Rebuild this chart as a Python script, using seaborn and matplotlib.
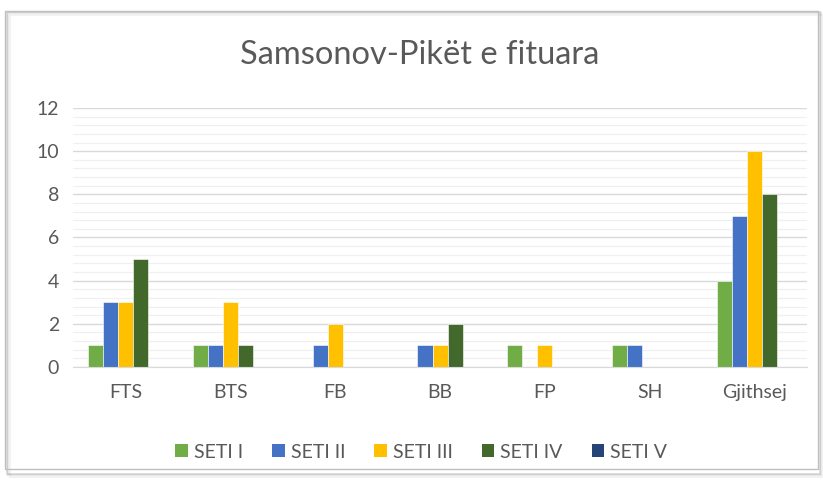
import matplotlib.pyplot as plt
import seaborn as sns
import pandas as pd
from matplotlib.ticker import MultipleLocator
from matplotlib.patches import Rectangle, Patch

categories = ['FTS', 'BTS', 'FB', 'BB', 'FP', 'SH', 'Gjithsej']
series = ['SETI I', 'SETI II', 'SETI III', 'SETI IV', 'SETI V']
seti_1 = [1, 1, 0, 0, 1, 1, 4]
seti_2 = [3, 1, 1, 1, 0, 1, 7]
seti_3 = [3, 3, 2, 1, 1, 0, 10]
seti_4 = [5, 1, 0, 2, 0, 0, 8]
seti_5 = [0, 0, 0, 0, 0, 0, 0]
colors = ['#70AD47', '#4472C4', '#FFC000', '#43682B', '#264478']

rows = []
for name, vals in zip(series, [seti_1, seti_2, seti_3, seti_4, seti_5]):
    for cat, v in zip(categories, vals):
        rows.append({'cat': cat, 'seti': name, 'val': v})
df = pd.DataFrame(rows)

sns.set_style('white')
plt.rcParams['font.family'] = ['Lato', 'DejaVu Sans']

fig = plt.figure(figsize=(8.23, 4.82), dpi=100)
ax = fig.add_axes([0.0887, 0.2386, 0.892, 0.5374])

sns.barplot(data=df, x='cat', y='val', hue='seti', order=categories, hue_order=series,
            palette=colors, saturation=1, width=0.72, edgecolor='white', linewidth=0.4,
            errorbar=None, legend=False, ax=ax)

ax.set_ylim(0, 12)
ax.set_xlim(-0.5, len(categories) - 0.5)
ax.yaxis.set_major_locator(MultipleLocator(2))
ax.yaxis.set_minor_locator(MultipleLocator(0.4))
ax.grid(axis='y', which='major', color='#D9D9D9', linewidth=1.0)
ax.grid(axis='y', which='minor', color='#F0F0F0', linewidth=0.9)
ax.set_axisbelow(True)
for s in ['top', 'right', 'left']:
    ax.spines[s].set_visible(False)
ax.spines['bottom'].set_color('#D9D9D9')
ax.tick_params(axis='both', which='both', length=0, colors='#595959', labelsize=14)
ax.tick_params(axis='y', pad=10)
ax.tick_params(axis='x', pad=12)
ax.set_xlabel('')
ax.set_ylabel('')

fig.text(0.51, 0.885, 'Samsonov-Pikët e fituara', ha='center', va='center',
         fontsize=23.5, color='#595959')

handles = [Patch(facecolor=c, edgecolor='none') for c in colors]
fig.legend(handles, series, loc='center', bbox_to_anchor=(0.512, 0.062), ncol=5,
           frameon=False, fontsize=14, labelcolor='#595959', handlelength=0.65,
           handleheight=0.65, handletextpad=0.3, columnspacing=1.5)

# chart frame with a soft shadow
for i, a in enumerate([0.05, 0.08, 0.12]):
    fig.patches.append(Rectangle((0.006 + 0.002 * (3 - i), 0.02 - 0.003 * (3 - i)), 0.988, 0.958,
                                 transform=fig.transFigure, fill=False,
                                 edgecolor='black', alpha=a, linewidth=1.5))
fig.patches.append(Rectangle((0.006, 0.026), 0.988, 0.952, transform=fig.transFigure,
                             fill=False, edgecolor='#BFBFBF', linewidth=1.0))

fig.savefig('out.png', dpi=100)
